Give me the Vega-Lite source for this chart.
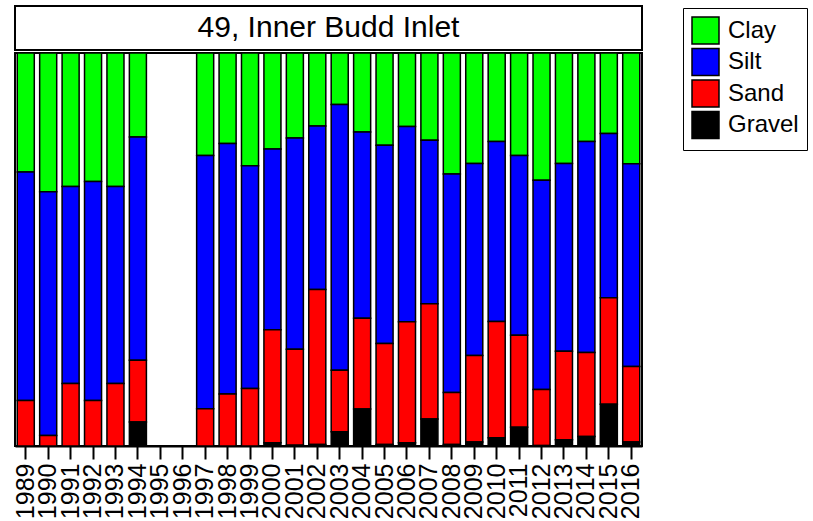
{
  "$schema": "https://vega.github.io/schema/vega-lite/v6.json",
  "padding": {"left": 12, "top": 5, "right": 0, "bottom": 0},
  "background": "white",
  "spacing": 0,
  "config": {
    "view": {"stroke": "black", "strokeWidth": 2},
    "font": "Liberation Sans"
  },
  "datasets": {
    "sed": [
      {"year": "1989", "component": "Clay", "pct": 30.3}, {"year": "1989", "component": "Silt", "pct": 58.1}, {"year": "1989", "component": "Sand", "pct": 11.6},
      {"year": "1990", "component": "Clay", "pct": 35.3}, {"year": "1990", "component": "Silt", "pct": 62.0}, {"year": "1990", "component": "Sand", "pct": 2.7},
      {"year": "1991", "component": "Clay", "pct": 34.0}, {"year": "1991", "component": "Silt", "pct": 50.1}, {"year": "1991", "component": "Sand", "pct": 15.9},
      {"year": "1992", "component": "Clay", "pct": 32.7}, {"year": "1992", "component": "Silt", "pct": 55.7}, {"year": "1992", "component": "Sand", "pct": 11.6},
      {"year": "1993", "component": "Clay", "pct": 34.0}, {"year": "1993", "component": "Silt", "pct": 50.1}, {"year": "1993", "component": "Sand", "pct": 15.9},
      {"year": "1994", "component": "Clay", "pct": 21.4}, {"year": "1994", "component": "Silt", "pct": 56.8}, {"year": "1994", "component": "Sand", "pct": 15.7}, {"year": "1994", "component": "Gravel", "pct": 6.1},
      {"year": "1997", "component": "Clay", "pct": 26.1}, {"year": "1997", "component": "Silt", "pct": 64.4}, {"year": "1997", "component": "Sand", "pct": 9.5},
      {"year": "1998", "component": "Clay", "pct": 23.0}, {"year": "1998", "component": "Silt", "pct": 63.8}, {"year": "1998", "component": "Sand", "pct": 13.2},
      {"year": "1999", "component": "Clay", "pct": 28.7}, {"year": "1999", "component": "Silt", "pct": 56.7}, {"year": "1999", "component": "Sand", "pct": 14.6},
      {"year": "2000", "component": "Clay", "pct": 24.4}, {"year": "2000", "component": "Silt", "pct": 46.0}, {"year": "2000", "component": "Sand", "pct": 28.8}, {"year": "2000", "component": "Gravel", "pct": 0.8},
      {"year": "2001", "component": "Clay", "pct": 21.6}, {"year": "2001", "component": "Silt", "pct": 53.8}, {"year": "2001", "component": "Sand", "pct": 24.4}, {"year": "2001", "component": "Gravel", "pct": 0.2},
      {"year": "2002", "component": "Clay", "pct": 18.6}, {"year": "2002", "component": "Silt", "pct": 41.6}, {"year": "2002", "component": "Sand", "pct": 39.4}, {"year": "2002", "component": "Gravel", "pct": 0.4},
      {"year": "2003", "component": "Clay", "pct": 13.1}, {"year": "2003", "component": "Silt", "pct": 67.6}, {"year": "2003", "component": "Sand", "pct": 15.7}, {"year": "2003", "component": "Gravel", "pct": 3.6},
      {"year": "2004", "component": "Clay", "pct": 20.1}, {"year": "2004", "component": "Silt", "pct": 47.4}, {"year": "2004", "component": "Sand", "pct": 23.1}, {"year": "2004", "component": "Gravel", "pct": 9.4},
      {"year": "2005", "component": "Clay", "pct": 23.5}, {"year": "2005", "component": "Silt", "pct": 50.4}, {"year": "2005", "component": "Sand", "pct": 25.7}, {"year": "2005", "component": "Gravel", "pct": 0.4},
      {"year": "2006", "component": "Clay", "pct": 18.7}, {"year": "2006", "component": "Silt", "pct": 49.7}, {"year": "2006", "component": "Sand", "pct": 30.8}, {"year": "2006", "component": "Gravel", "pct": 0.8},
      {"year": "2007", "component": "Clay", "pct": 22.2}, {"year": "2007", "component": "Silt", "pct": 41.6}, {"year": "2007", "component": "Sand", "pct": 29.3}, {"year": "2007", "component": "Gravel", "pct": 6.9},
      {"year": "2008", "component": "Clay", "pct": 30.8}, {"year": "2008", "component": "Silt", "pct": 55.6}, {"year": "2008", "component": "Sand", "pct": 13.2}, {"year": "2008", "component": "Gravel", "pct": 0.4},
      {"year": "2009", "component": "Clay", "pct": 28.1}, {"year": "2009", "component": "Silt", "pct": 48.9}, {"year": "2009", "component": "Sand", "pct": 22.0}, {"year": "2009", "component": "Gravel", "pct": 1.0},
      {"year": "2010", "component": "Clay", "pct": 22.5}, {"year": "2010", "component": "Silt", "pct": 45.8}, {"year": "2010", "component": "Sand", "pct": 29.6}, {"year": "2010", "component": "Gravel", "pct": 2.1},
      {"year": "2011", "component": "Clay", "pct": 26.1}, {"year": "2011", "component": "Silt", "pct": 45.7}, {"year": "2011", "component": "Sand", "pct": 23.4}, {"year": "2011", "component": "Gravel", "pct": 4.8},
      {"year": "2012", "component": "Clay", "pct": 32.4}, {"year": "2012", "component": "Silt", "pct": 53.2}, {"year": "2012", "component": "Sand", "pct": 14.3}, {"year": "2012", "component": "Gravel", "pct": 0.1},
      {"year": "2013", "component": "Clay", "pct": 28.1}, {"year": "2013", "component": "Silt", "pct": 47.8}, {"year": "2013", "component": "Sand", "pct": 22.5}, {"year": "2013", "component": "Gravel", "pct": 1.6},
      {"year": "2014", "component": "Clay", "pct": 22.5}, {"year": "2014", "component": "Silt", "pct": 53.7}, {"year": "2014", "component": "Sand", "pct": 21.4}, {"year": "2014", "component": "Gravel", "pct": 2.4},
      {"year": "2015", "component": "Clay", "pct": 20.5}, {"year": "2015", "component": "Silt", "pct": 41.8}, {"year": "2015", "component": "Sand", "pct": 27.1}, {"year": "2015", "component": "Gravel", "pct": 10.6},
      {"year": "2016", "component": "Clay", "pct": 28.2}, {"year": "2016", "component": "Silt", "pct": 51.6}, {"year": "2016", "component": "Sand", "pct": 19.2}, {"year": "2016", "component": "Gravel", "pct": 1.0}
    ]
  },
  "vconcat": [
    {
      "width": 627,
      "height": 44,
      "data": {"values": [{"label": "49, Inner Budd Inlet"}]},
      "layer": [
        {
          "mark": {"type": "rect", "fill": "white", "stroke": "black", "strokeWidth": 2},
          "encoding": {}
        },
        {
          "mark": {"type": "text", "fontSize": 30, "font": "Liberation Sans", "color": "black", "align": "center", "baseline": "middle"},
          "encoding": {"text": {"field": "label"}}
        }
      ]
    },
    {
      "width": 627,
      "height": 393,
      "data": {"name": "sed"},
      "transform": [
        {"calculate": "indexof(['Gravel', 'Sand', 'Silt', 'Clay'], datum.component)", "as": "stackRank"}
      ],
      "mark": {"type": "bar", "stroke": "black", "strokeWidth": 1.5},
      "encoding": {
        "x": {
          "field": "year",
          "type": "ordinal",
          "scale": {
            "domain": ["1989","1990","1991","1992","1993","1994","1995","1996","1997","1998","1999","2000","2001","2002","2003","2004","2005","2006","2007","2008","2009","2010","2011","2012","2013","2014","2015","2016"],
            "paddingInner": 0.24,
            "paddingOuter": 0.1
          },
          "axis": {
            "title": null,
            "labelAngle": 270,
            "labelFontSize": 25,
            "labelFont": "Liberation Sans",
            "labelColor": "black",
            "labelPadding": 4,
            "tickSize": 13,
            "tickWidth": 2,
            "tickColor": "black",
            "domainColor": "black",
            "domainWidth": 2
          }
        },
        "y": {
          "field": "pct",
          "type": "quantitative",
          "stack": "normalize",
          "scale": {"domain": [0, 1], "nice": false},
          "axis": null
        },
        "order": {"field": "stackRank", "type": "quantitative", "sort": "ascending"},
        "color": {
          "field": "component",
          "type": "nominal",
          "scale": {"domain": ["Clay", "Silt", "Sand", "Gravel"], "range": ["#00FF00", "#0000FF", "#FF0000", "#000000"]},
          "legend": {
            "title": null,
            "orient": "none",
            "legendX": 668,
            "legendY": 2,
            "strokeColor": "black",
            "padding": 8,
            "symbolType": "square",
            "symbolSize": 729,
            "symbolStrokeColor": "black",
            "symbolStrokeWidth": 1.5,
            "symbolOpacity": 1,
            "labelFontSize": 24,
            "labelFont": "Liberation Sans",
            "labelColor": "black",
            "labelOffset": 8,
            "rowPadding": -1.5,
            "labelLimit": 200
          }
        }
      }
    }
  ]
}
